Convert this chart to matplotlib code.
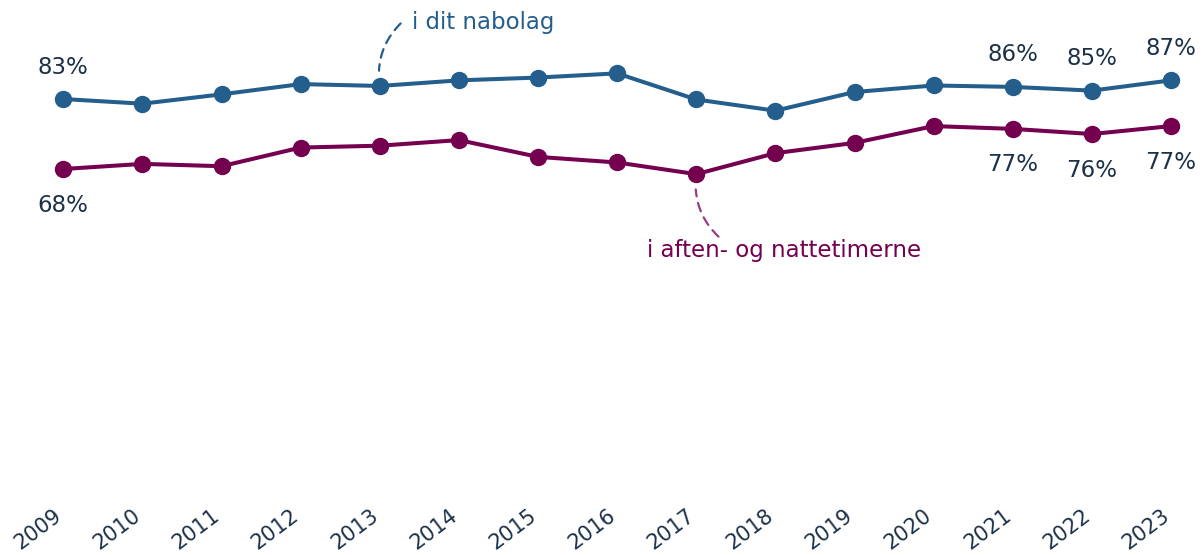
import matplotlib
matplotlib.use("Agg")
import matplotlib.pyplot as plt
from matplotlib.transforms import offset_copy

# ----------------------------
# Data
# ----------------------------
years = list(range(2009, 2024))
nabolag = [83.0, 82.0, 84.0, 86.2, 85.8, 87.0, 87.6, 88.5, 82.9, 80.5, 84.5, 85.9, 85.6, 84.8, 87.0]
aften = [68.0, 69.1, 68.6, 72.6, 73.0, 74.2, 70.6, 69.4, 66.9, 71.4, 73.6, 77.2, 76.6, 75.5, 77.2]

# years that get a value label, and their texts
label_years_top = [2009, 2021, 2022, 2023]
label_text_top = ["83%", "86%", "85%", "87%"]
label_years_bot = [2009, 2021, 2022, 2023]
label_text_bot = ["68%", "77%", "76%", "77%"]

BLUE = "#245e8c"
PURPLE = "#74004f"
TEXT = "#1c3148"
FS = 16.5

plt.rcParams["font.family"] = ["DejaVu Sans"]

fig = plt.figure(figsize=(12.04, 5.55), dpi=100)
W, H = 1204, 555
# axes placed so that 2009 -> x=63, 2023 -> x=1171, 0% -> y=486, 100% -> y=20
ax = fig.add_axes([63.3 / W, (H - 486.3) / H, (1171 - 63.3) / W, (486.3 - 19.7) / H])
ax.set_xlim(2009, 2023)
ax.set_ylim(0, 100)

ax.plot(years, nabolag, color=BLUE, lw=2.9, marker="o", ms=11.5, clip_on=False, zorder=3)
ax.plot(years, aften, color=PURPLE, lw=2.9, marker="o", ms=11.5, clip_on=False, zorder=3)

# value labels
for yr, txt in zip(label_years_top, label_text_top):
    v = nabolag[years.index(yr)]
    ax.annotate(txt, (yr, v), xytext=(0, 23), textcoords="offset points",
                ha="center", va="center", fontsize=FS, color=TEXT)
for yr, txt in zip(label_years_bot, label_text_bot):
    v = aften[years.index(yr)]
    ax.annotate(txt, (yr, v), xytext=(0, -26), textcoords="offset points",
                ha="center", va="center", fontsize=FS, color=TEXT)

# series annotations with dashed leader lines
ax.annotate("i dit nabolag", xy=(2013, nabolag[4]), xytext=(23, 46), textcoords="offset points",
            ha="left", va="center", fontsize=FS, color=BLUE)
ax.annotate("", xy=(2013, nabolag[4]), xytext=(15, 45), textcoords="offset points",
            arrowprops=dict(arrowstyle="-", color=BLUE, lw=1.6, linestyle=(0, (4, 3)),
                            shrinkA=0, shrinkB=11, connectionstyle="arc3,rad=0.25"))

ax.annotate("i aften- og nattetimerne", xy=(2017, aften[8]), xytext=(-35.5, -55),
            textcoords="offset points", ha="left", va="center", fontsize=FS, color=PURPLE)
ax.annotate("", xy=(2017, aften[8]), xytext=(16, -45), textcoords="offset points",
            arrowprops=dict(arrowstyle="-", color="#9a3d7f", lw=1.6, linestyle=(0, (4, 3)),
                            shrinkA=0, shrinkB=11, connectionstyle="arc3,rad=-0.25"))

ax.set_xticks(years)
ax.set_xticklabels([str(y) for y in years], rotation=37, ha="right", rotation_mode="anchor",
                   fontsize=15, color=TEXT)
ax.tick_params(axis="x", length=0, pad=14)
for lab in ax.get_xticklabels():
    lab.set_transform(offset_copy(lab.get_transform(), fig=fig, x=-10, y=0, units="dots"))
ax.set_yticks([])
for s in ax.spines.values():
    s.set_visible(False)

fig.savefig("out.png", dpi=100)
